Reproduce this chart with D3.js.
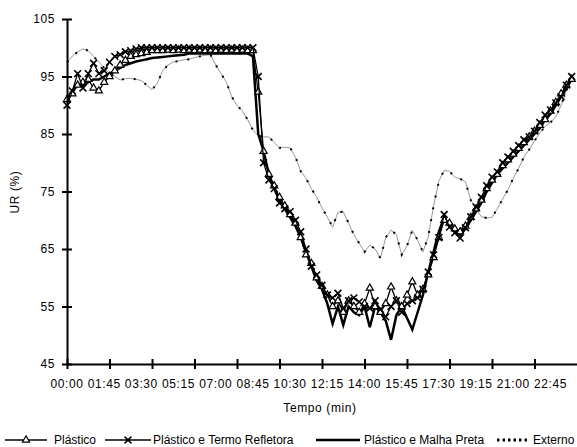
<!DOCTYPE html>
<html>
<head>
<meta charset="utf-8">
<script src="https://cdn.jsdelivr.net/npm/d3@7"></script>
<style>
  body { margin: 0; background: #fff; }
  svg { font-family: "Liberation Sans", Arial, sans-serif; }
</style>
</head>
<body>
<div id="chart"></div>
<script>
// time of each reading, one every 15 minutes (00:00 .. 23:45)
const minutes = d3.range(0, 1440, 15);

const tickLabels = ["00:00", "01:45", "03:30", "05:15", "07:00", "08:45", "10:30",
  "12:15", "14:00", "15:45", "17:30", "19:15", "21:00", "22:45"];
const yTicks = [45, 55, 65, 75, 85, 95, 105];

const plastico = [91, 92, 93.5, 94, 94.5, 93, 92.5, 94, 95, 96, 97, 97.8, 98.5, 98.8, 99, 99.2,
  99.5, 99.5, 99.5, 99.6, 99.5, 99.6, 99.5, 99.6, 99.5, 99.6, 99.5, 99.6, 99.5, 99.6, 99.5, 99.6,
  99.5, 99.6, 99.5, 99.5, 92.3, 82, 78, 76, 74, 72.5, 71, 69.5, 67, 64, 62.5, 60,
  58.5, 57, 55, 56, 54, 56, 55, 54, 55.5, 58.2, 55, 54, 55.5, 58.4, 56, 55,
  57, 59.3, 57, 58, 60.5, 63.5, 67, 70, 69.5, 68.5, 68, 69, 70.5, 72, 73.5, 75.5,
  77, 78, 79.5, 80.5, 81.5, 82.5, 83.5, 84.5, 85.5, 86.5, 87.5, 89, 90.5, 92, 93.5, 94.5];

const termoRefletora = [90, 92.5, 95.5, 93, 95.5, 97.3, 95.5, 96, 97.5, 98.5, 98.8, 99.3, 99.5, 99.8, 100, 100,
  100, 100, 100, 100, 100, 100, 100, 100, 100, 100, 100, 100, 100, 100, 100, 100,
  100, 100, 100, 100, 95, 80, 77, 75.5, 73, 72, 71.5, 70, 68, 65, 62, 60.5,
  58.7, 57, 56.5, 57.3, 54.7, 56, 56.5, 55.8, 55, 54.7, 56, 54.5, 53.2, 55, 56, 54,
  55.5, 56, 56.5, 58, 61, 64, 67, 71, 68.8, 67.8, 66.9, 68.7, 70.6, 72.3, 74, 76,
  77.5, 78.4, 80, 81, 82, 83, 84, 84.5, 85.5, 87, 88.3, 89.2, 90.4, 91.5, 93.5, 95];

const malhaPreta = [91, 92.5, 93.5, 93.5, 94, 94.5, 94.5, 95, 95.5, 96, 96.5, 97, 97.3, 97.6, 97.8, 98,
  98.2, 98.3, 98.4, 98.5, 98.6, 98.7, 98.8, 99, 99, 99, 99, 99, 99, 99, 99, 99,
  99, 99, 99, 98.5, 85, 82, 78, 75.5, 73.5, 72, 70.5, 69, 67, 64.5, 62, 59.5,
  58, 55.5, 52, 55, 51.8, 55, 54, 53.5, 55, 51.4, 55, 54, 52.5, 49.2, 53.5, 55,
  53, 51, 54, 57, 61, 64.5, 68, 70.5, 69, 68, 67.5, 68.5, 70, 71.5, 73, 75,
  76.5, 78, 79, 80, 81, 82, 83, 84, 85, 86, 87.5, 88.5, 90, 91.5, 93, 94.5];

const externo = [97.5, 98.5, 99.3, 99.8, 99.5, 98.5, 97.5, 96.5, 95.5, 95, 94.4, 94.6, 94.7, 94.5, 94.3, 93.5,
  92.7, 93.8, 96, 97, 97.5, 97.7, 97.9, 98, 98.3, 98.5, 98.7, 98.8, 97, 95.5, 94, 91.5,
  90, 89, 87.5, 85.7, 84.7, 84.5, 84.5, 83.5, 82.6, 82.7, 82.6, 81, 78.5, 77.3, 75.5, 74,
  72.1, 70.6, 68.8, 71.4, 71.5, 69.5, 67.5, 66, 64.5, 65.7, 65, 63.4, 67, 68.3, 67.5, 64,
  65.5, 68.3, 66.5, 64.5, 67.1, 72.5, 76.8, 78.7, 78.5, 77.5, 77.2, 76.7, 73.5, 72, 70.6, 70.4,
  70.5, 72, 73.7, 75.3, 77.3, 79, 81, 82.3, 83.8, 85.2, 86.3, 87, 88, 90, 92.5, 94.7];

const seriesNames = ["Plástico", "Plástico e Termo Refletora", "Plástico e Malha Preta", "Externo"];

const width = 577, height = 447;
const svg = d3.select("#chart").append("svg")
  .attr("width", width)
  .attr("height", height);

const x = d3.scaleLinear().domain([0, 1440]).range([67, 577]);
const y = d3.scaleLinear().domain([45, 105]).range([364, 19]);

const line = d3.line()
  .x((d, i) => x(minutes[i]))
  .y(d => y(d));

// Externo: thin grey line with black square dots
svg.append("path")
  .datum(externo)
  .attr("d", line)
  .attr("fill", "none")
  .attr("stroke", "#999")
  .attr("stroke-width", 1);
svg.append("path")
  .datum(externo)
  .attr("d", line)
  .attr("fill", "none")
  .attr("stroke", "#000")
  .attr("stroke-width", 2)
  .attr("stroke-dasharray", "2,10");

// Plástico e Malha Preta: thick line
svg.append("path")
  .datum(malhaPreta)
  .attr("d", line)
  .attr("fill", "none")
  .attr("stroke", "#000")
  .attr("stroke-width", 2.5);

// Plástico: line with open triangles
svg.append("path")
  .datum(plastico)
  .attr("d", line)
  .attr("fill", "none")
  .attr("stroke", "#000")
  .attr("stroke-width", 1.3);

const triangle = d3.symbol().type(d3.symbolTriangle).size(22);
svg.append("g").selectAll("path")
  .data(plastico)
  .enter().append("path")
  .attr("d", triangle)
  .attr("transform", (d, i) => `translate(${x(minutes[i])},${y(d)})`)
  .attr("fill", "#fff")
  .attr("stroke", "#000")
  .attr("stroke-width", 1.2);

// Plástico e Termo Refletora: line with x markers
svg.append("path")
  .datum(termoRefletora)
  .attr("d", line)
  .attr("fill", "none")
  .attr("stroke", "#000")
  .attr("stroke-width", 1.3);

const cross = d3.symbol().type(d3.symbolTimes).size(32);
svg.append("g").selectAll("path")
  .data(termoRefletora)
  .enter().append("path")
  .attr("d", cross)
  .attr("transform", (d, i) => `translate(${x(minutes[i])},${y(d)})`)
  .attr("fill", "none")
  .attr("stroke", "#000")
  .attr("stroke-width", 1.6);

// Y axis
const yAxis = svg.append("g")
  .attr("transform", "translate(67,0)")
  .call(d3.axisLeft(y).tickValues(yTicks).tickSize(5).tickSizeOuter(0).tickPadding(7));
yAxis.select(".domain").attr("stroke-width", 2);
yAxis.selectAll(".tick line").attr("x1", 5).attr("stroke-width", 2);
yAxis.selectAll(".tick text")
  .style("font-size", "12px")
  .style("letter-spacing", "0.6px")
  .attr("fill", "#000");

// X axis: tick marks every 2 hours, labels every 1h45
const xAxis = svg.append("g")
  .attr("transform", "translate(0,364)")
  .call(d3.axisBottom(x).tickValues(d3.range(0, 1440, 120)).tickSize(5).tickSizeOuter(0).tickFormat(""));
xAxis.select(".domain").attr("stroke-width", 2);
xAxis.selectAll(".tick line").attr("y1", -5).attr("stroke-width", 2);

const labelMinutes = tickLabels.map(t => +t.slice(0, 2) * 60 + +t.slice(3));
svg.append("g")
  .selectAll("text")
  .data(tickLabels)
  .enter().append("text")
  .attr("x", (d, i) => x(labelMinutes[i]))
  .attr("y", 388)
  .attr("text-anchor", "middle")
  .style("font-size", "12px")
  .style("letter-spacing", "0.6px")
  .text(d => d);

// axis titles
svg.append("text")
  .attr("x", 320)
  .attr("y", 412)
  .attr("text-anchor", "middle")
  .style("font-size", "12px")
  .style("letter-spacing", "0.6px")
  .text("Tempo (min)");

svg.append("text")
  .attr("transform", "translate(19,192) rotate(-90)")
  .attr("text-anchor", "middle")
  .style("font-size", "12px")
  .style("letter-spacing", "0.6px")
  .text("UR (%)");

// legend
const legend = svg.append("g").attr("transform", "translate(0,440)");
const legendItems = [
  { x0: 5, x1: 47, text: 54 },
  { x0: 105, x1: 151, text: 153 },
  { x0: 316, x1: 360, text: 364 },
  { x0: 497, x1: 530, text: 533 }
];
legendItems.forEach((it, i) => {
  const l = legend.append("line")
    .attr("x1", it.x0).attr("x2", it.x1)
    .attr("stroke", "#000");
  if (i === 2) l.attr("stroke-width", 2.5);
  else if (i === 3) l.attr("stroke-width", 3).attr("stroke-dasharray", "2.5,3");
  else l.attr("stroke-width", 1.3);
  const mid = (it.x0 + it.x1) / 2;
  if (i === 0) {
    legend.append("path").attr("d", triangle).attr("transform", `translate(${mid},0)`)
      .attr("fill", "#fff").attr("stroke", "#000").attr("stroke-width", 1.2);
  }
  if (i === 1) {
    legend.append("path").attr("d", cross).attr("transform", `translate(${mid},0)`)
      .attr("fill", "none").attr("stroke", "#000").attr("stroke-width", 1.6);
  }
  legend.append("text")
    .attr("x", it.text)
    .attr("y", 4)
    .style("font-size", "12px")
    .text(seriesNames[i]);
});
</script>
</body>
</html>
